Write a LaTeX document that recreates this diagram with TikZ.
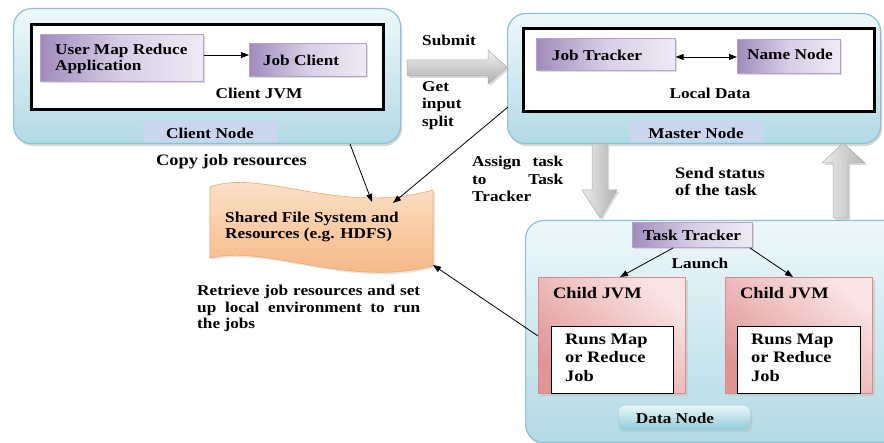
\documentclass[tikz,border=0pt]{standalone}
\usepackage{fontspec}
\setmainfont{Liberation Serif}[FakeStretch=1.15]
\usetikzlibrary{shadows,arrows.meta,calc}
\definecolor{nodeborder}{HTML}{8CC3D2}
\definecolor{nodetop}{HTML}{EEF8FB}
\definecolor{nodebot}{HTML}{B2DAE5}
\definecolor{purdark}{HTML}{A18BBD}
\definecolor{purmid}{HTML}{D8CEE6}
\definecolor{purlight}{HTML}{EFEAF5}
\definecolor{labelblue}{HTML}{C9D6EE}
\definecolor{pinkdark}{HTML}{E09494}
\definecolor{pinklight}{HTML}{FBE4E4}
\definecolor{pinkborder}{HTML}{D98B8B}
\definecolor{orangetop}{HTML}{FDE6D0}
\definecolor{orangebot}{HTML}{F6B27C}
\definecolor{orangeborder}{HTML}{EFA66A}
\definecolor{dntop}{HTML}{EAF6F9}
\definecolor{dnbot}{HTML}{8FCAD8}
\begin{document}
\begin{tikzpicture}[x=1pt,y=-1pt,
  lbl/.style={font=\bfseries\fontsize{15}{16.5}\selectfont, inner sep=0pt},
  bigl/.style={font=\bfseries\fontsize{16}{17.5}\selectfont, inner sep=0pt},
  hostbox/.style={draw=nodeborder, line width=1.2pt, rounded corners=18pt, top color=nodetop, bottom color=nodebot,
     drop shadow={shadow xshift=1.5pt, shadow yshift=-2.5pt, fill=black!30}, anchor=north west, inner sep=0pt},
  jvmbox/.style={draw=black, line width=3pt, fill=white, anchor=north west, inner sep=0pt},
  purbox/.style={draw=purdark!80, line width=0.6pt, left color=purdark, right color=purlight, middle color=purmid,
     drop shadow={shadow xshift=2pt, shadow yshift=-2pt, fill=black!25}, anchor=north west, inner sep=0pt},
  pinkbox/.style={draw=pinkborder, line width=1.4pt, top color=pinklight, bottom color=pinkdark, shading angle=-40,
     drop shadow={shadow xshift=2pt, shadow yshift=-2pt, fill=black!25}, anchor=north west, inner sep=0pt},
  whitebox/.style={draw=black, line width=0.8pt, fill=white, anchor=north west, inner sep=0pt},
  tagbox/.style={fill=labelblue, anchor=north west, inner sep=0pt},
  blk/.style={draw=gray!65, line width=0.5pt, drop shadow={shadow xshift=2pt, shadow yshift=-2pt, fill=black!30}},
  conn/.style={line width=0.8pt, -{Triangle[length=8pt,width=6pt]}},
  dconn/.style={line width=0.8pt, {Triangle[length=8pt,width=6pt]}-{Triangle[length=8pt,width=6pt]}}
]
\useasboundingbox (0,0) rectangle (884,443);
\fill[white] (0,0) rectangle (884,443);

% ---------- Client node ----------
\node[hostbox, minimum width=387pt, minimum height=135pt] (client) at (13,8) {};
\node[jvmbox, minimum width=352pt, minimum height=85pt] (cjvm) at (30,23) {};
\node[purbox, minimum width=163pt, minimum height=47pt] (umr) at (40,34) {};
\node[lbl, anchor=west, align=left, font=\bfseries\fontsize{15}{16}\selectfont] (umrt) at (55,59) {User Map Reduce\\Application};
\node[purbox, minimum width=117pt, minimum height=33pt] (jc) at (249,43) {};
\node[lbl] (jct) at (301,60) {Job Client};
\draw[conn] (umr.east |- 0,55) -- (jc.west |- 0,55);
\node[lbl] (cjvmt) at (259,93) {Client JVM};
\node[tagbox, minimum width=135pt, minimum height=22pt] (ctag) at (143,120) {};
\node[lbl] (ctagt) at (210,133) {Client Node};

% ---------- Master node ----------
\node[hostbox, minimum width=373pt, minimum height=130pt] (master) at (507,13) {};
\node[jvmbox, minimum width=351pt, minimum height=83pt] (mld) at (522,27) {};
\node[purbox, minimum width=139pt, minimum height=32pt] (jt) at (536,38) {};
\node[lbl] (jtt) at (597,55) {Job Tracker};
\node[purbox, minimum width=103pt, minimum height=34pt] (nn) at (737,39) {};
\node[lbl] (nnt) at (790,54) {Name Node};
\draw[dconn] (jt.east |- 0,57) -- (nn.west |- 0,57);
\node[lbl] (ldt) at (710,93) {Local Data};
\node[tagbox, minimum width=133pt, minimum height=22pt] (mtag) at (630,120) {};
\node[lbl] (mtagt) at (696,133) {Master Node};

% ---------- Submit block arrow ----------
\path[blk, top color=gray!12, bottom color=gray!62] (407,60) -- (488,60) -- (488,50) -- (507,67) -- (488,84) -- (488,76) -- (407,76) -- cycle;
\node[lbl, anchor=west] (submit) at (422,40) {Submit};
\node[lbl, anchor=north west, align=left, font=\bfseries\fontsize{15}{17.5}\selectfont] (gis) at (422,81) {Get\\input\\split};

% ---------- Shared file system ----------
\path[draw=orangeborder, line width=0.6pt, top color=orangetop, bottom color=orangebot,
      drop shadow={shadow xshift=2pt, shadow yshift=-2pt, fill=black!20}]
  (210,187) .. controls (262,168) and (340,216) .. (433,190) -- (433,266)
  .. controls (345,288) and (268,244) .. (210,258) -- cycle;
\node[lbl, align=left, anchor=west] (sfs) at (225,227) {Shared File System and\\Resources (e.g. HDFS)};

\node[bigl, anchor=west] (copyt) at (156,162) {Copy job resources};

\coordinate (cpS) at (350,144);
\coordinate (cpE) at (372,202);
\draw[conn] (cpS) -- (cpE);
\coordinate (gsS) at (508,107);
\coordinate (gsE) at (393,203);
\draw[conn] (gsS) -- (gsE);

\node[lbl, anchor=north west, align=left, font=\bfseries\fontsize{15}{17.5}\selectfont] (assign) at (472,156)
  {\makebox[91pt][s]{Assign task}\\\makebox[91pt][s]{to Task}\\Tracker};

\node[lbl, anchor=north west, align=left] (retr) at (197,285)
  {\makebox[223pt][s]{Retrieve job resources and set}\\\makebox[223pt][s]{up local environment to run}\\the jobs};

% ---------- vertical block arrows ----------
\path[blk, left color=gray!15, right color=gray!62] (592,144) -- (607,144) -- (607,190) -- (617,190) -- (600,218) -- (582,190) -- (592,190) -- cycle;
\path[blk, left color=gray!15, right color=gray!58] (833,218) -- (848,218) -- (848,163) -- (865,163) -- (843,143) -- (822,163) -- (833,163) -- cycle;
\node[bigl, anchor=north west, align=left] (status) at (675,167) {Send status\\of the task};

% ---------- Data node ----------
\node[hostbox, minimum width=380pt, minimum height=222pt] (data) at (525,220) {};
\node[purbox, minimum width=120pt, minimum height=25pt] (tt) at (632,222) {};
\node[lbl] (ttt) at (692,235) {Task Tracker};
\node[lbl] (launch) at (700,263) {Launch};

\node[pinkbox, minimum width=147pt, minimum height=116pt] (c1) at (538,277) {};
\node[lbl, anchor=west, font=\bfseries\fontsize{16}{17}\selectfont] (c1t) at (553,293) {Child JVM};
\node[whitebox, minimum width=122pt, minimum height=67pt] (r1) at (551,326) {};
\node[lbl, anchor=north west, align=left, font=\bfseries\fontsize{16}{18.2}\selectfont] (r1t) at (565,334) {Runs Map\\or Reduce\\Job};

\node[pinkbox, minimum width=147pt, minimum height=116pt] (c2) at (725,277) {};
\node[lbl, anchor=west, font=\bfseries\fontsize{16}{17}\selectfont] (c2t) at (740,293) {Child JVM};
\node[whitebox, minimum width=123pt, minimum height=67pt] (r2) at (737,326) {};
\node[lbl, anchor=north west, align=left, font=\bfseries\fontsize{16}{18.2}\selectfont] (r2t) at (751,334) {Runs Map\\or Reduce\\Job};

\coordinate (l1S) at (673,248);
\coordinate (l1E) at (620,277);
\coordinate (l2S) at (750,248);
\coordinate (l2E) at (793,277);
\draw[conn] (l1S) -- (l1E);
\draw[conn] (l2S) -- (l2E);

\node[draw=nodeborder!80, line width=0.5pt, rounded corners=6pt, top color=dntop, bottom color=dnbot,
      drop shadow={shadow xshift=2pt, shadow yshift=-2pt, fill=black!25},
      anchor=north west, inner sep=0pt, minimum width=132pt, minimum height=25pt] (dtag) at (618,405) {};
\node[lbl] (dtagt) at (675,418) {Data Node};

\coordinate (rtS) at (538,336);
\coordinate (rtE) at (433,265);
\draw[conn] (rtS) -- (rtE);
\end{tikzpicture}
\end{document}
